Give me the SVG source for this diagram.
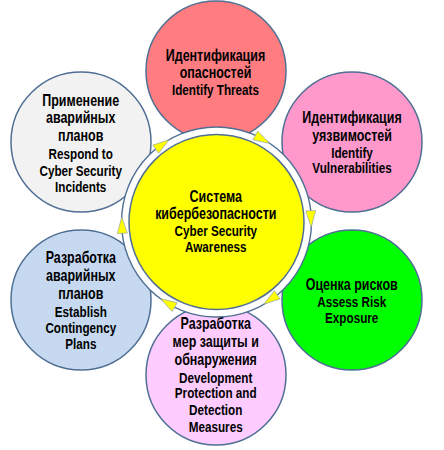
<svg xmlns="http://www.w3.org/2000/svg" width="444" height="450" viewBox="0 0 444 450">
<style>
.n{stroke:#4f6f94;stroke-width:1.5}
.t{font-family:"Liberation Sans",Arial,sans-serif;font-weight:bold;font-size:15px;fill:#000;text-anchor:middle}
.r{font-size:16px}
.ring{fill:#fff;stroke:#4f6f94;stroke-width:1.4}
.arr{fill:#ffff00;stroke:#8a9cb5;stroke-width:0.6;stroke-linejoin:round}
</style>
<defs>
<path id="tri" d="M8.5,-94.5 L-8,-99.5 L-8,-89.5 Z"/>
</defs>
<rect width="444" height="450" fill="#fff"/>
<g id="node-threats">
<circle class="n" cx="216" cy="71" r="70" fill="#ff7c80"/>
<g transform="translate(215.5,0) scale(0.78,1)">
<text class="t r" x="0" y="60.8">Идентификация</text>
<text class="t r" x="0" y="78.2">опасностей</text>
<text class="t" x="0" y="94.6">Identify Threats</text>
</g>
</g>
<g id="node-vulnerabilities">
<circle class="n" cx="352" cy="142" r="70" fill="#ff99cc"/>
<g transform="translate(352,0) scale(0.78,1)">
<text class="t r" x="0" y="123.3">Идентификация</text>
<text class="t r" x="0" y="140.6">уязвимостей</text>
<text class="t" x="0" y="157.7">Identify</text>
<text class="t" x="0" y="173.3">Vulnerabilities</text>
</g>
</g>
<g id="node-risk">
<circle class="n" cx="352" cy="300" r="70" fill="#00ff00"/>
<g transform="translate(351.7,0) scale(0.78,1)">
<text class="t r" x="0" y="290.5">Оценка рисков</text>
<text class="t" x="0" y="306.7">Assess Risk</text>
<text class="t" x="0" y="322.7">Exposure</text>
</g>
</g>
<g id="node-protection">
<circle class="n" cx="216" cy="375" r="70" fill="#ffccff"/>
<g transform="translate(215.7,0) scale(0.78,1)">
<text class="t r" x="0" y="329.5">Разработка</text>
<text class="t r" x="0" y="347">мер защиты и</text>
<text class="t r" x="0" y="365.5">обнаружения</text>
<text class="t" x="0" y="382.7">Development</text>
<text class="t" x="0" y="398.3">Protection and</text>
<text class="t" x="0" y="415">Detection</text>
<text class="t" x="0" y="431.7">Measures</text>
</g>
</g>
<g id="node-contingency">
<circle class="n" cx="81" cy="300" r="70" fill="#c6d9f0"/>
<g transform="translate(80.8,0) scale(0.78,1)">
<text class="t r" x="0" y="263.2">Разработка</text>
<text class="t r" x="0" y="281.2">аварийных</text>
<text class="t r" x="0" y="299.5">планов</text>
<text class="t" x="0" y="316.7">Establish</text>
<text class="t" x="0" y="332.7">Contingency</text>
<text class="t" x="0" y="349">Plans</text>
</g>
</g>
<g id="node-respond">
<circle class="n" cx="81" cy="142" r="70" fill="#f2f2f2"/>
<g transform="translate(80.7,0) scale(0.78,1)">
<text class="t r" x="0" y="106.2">Применение</text>
<text class="t r" x="0" y="123.5">аварийных</text>
<text class="t r" x="0" y="141.2">планов</text>
<text class="t" x="0" y="159">Respond to</text>
<text class="t" x="0" y="175.7">Cyber Security</text>
<text class="t" x="0" y="191.7">Incidents</text>
</g>
</g>
<g id="connectors">
<circle class="ring" cx="216.5" cy="222" r="95"/>
<g transform="translate(216.5,222)">
<use href="#tri" class="arr" transform="rotate(325)"/>
<use href="#tri" class="arr" transform="rotate(29)"/>
<use href="#tri" class="arr" transform="rotate(88)"/>
<use href="#tri" class="arr" transform="rotate(145)"/>
<use href="#tri" class="arr" transform="rotate(211)"/>
<use href="#tri" class="arr" transform="rotate(268)"/>
</g>
</g>
<g id="node-center">
<circle class="n" cx="216.5" cy="222" r="87.5" fill="#ffff00"/>
<g transform="translate(215.8,0) scale(0.78,1)">
<text class="t r" x="0" y="202.5">Система</text>
<text class="t r" x="0" y="219.2">кибербезопасности</text>
<text class="t" x="0" y="235.8">Cyber Security</text>
<text class="t" x="0" y="251.7">Awareness</text>
</g>
</g>
</svg>
